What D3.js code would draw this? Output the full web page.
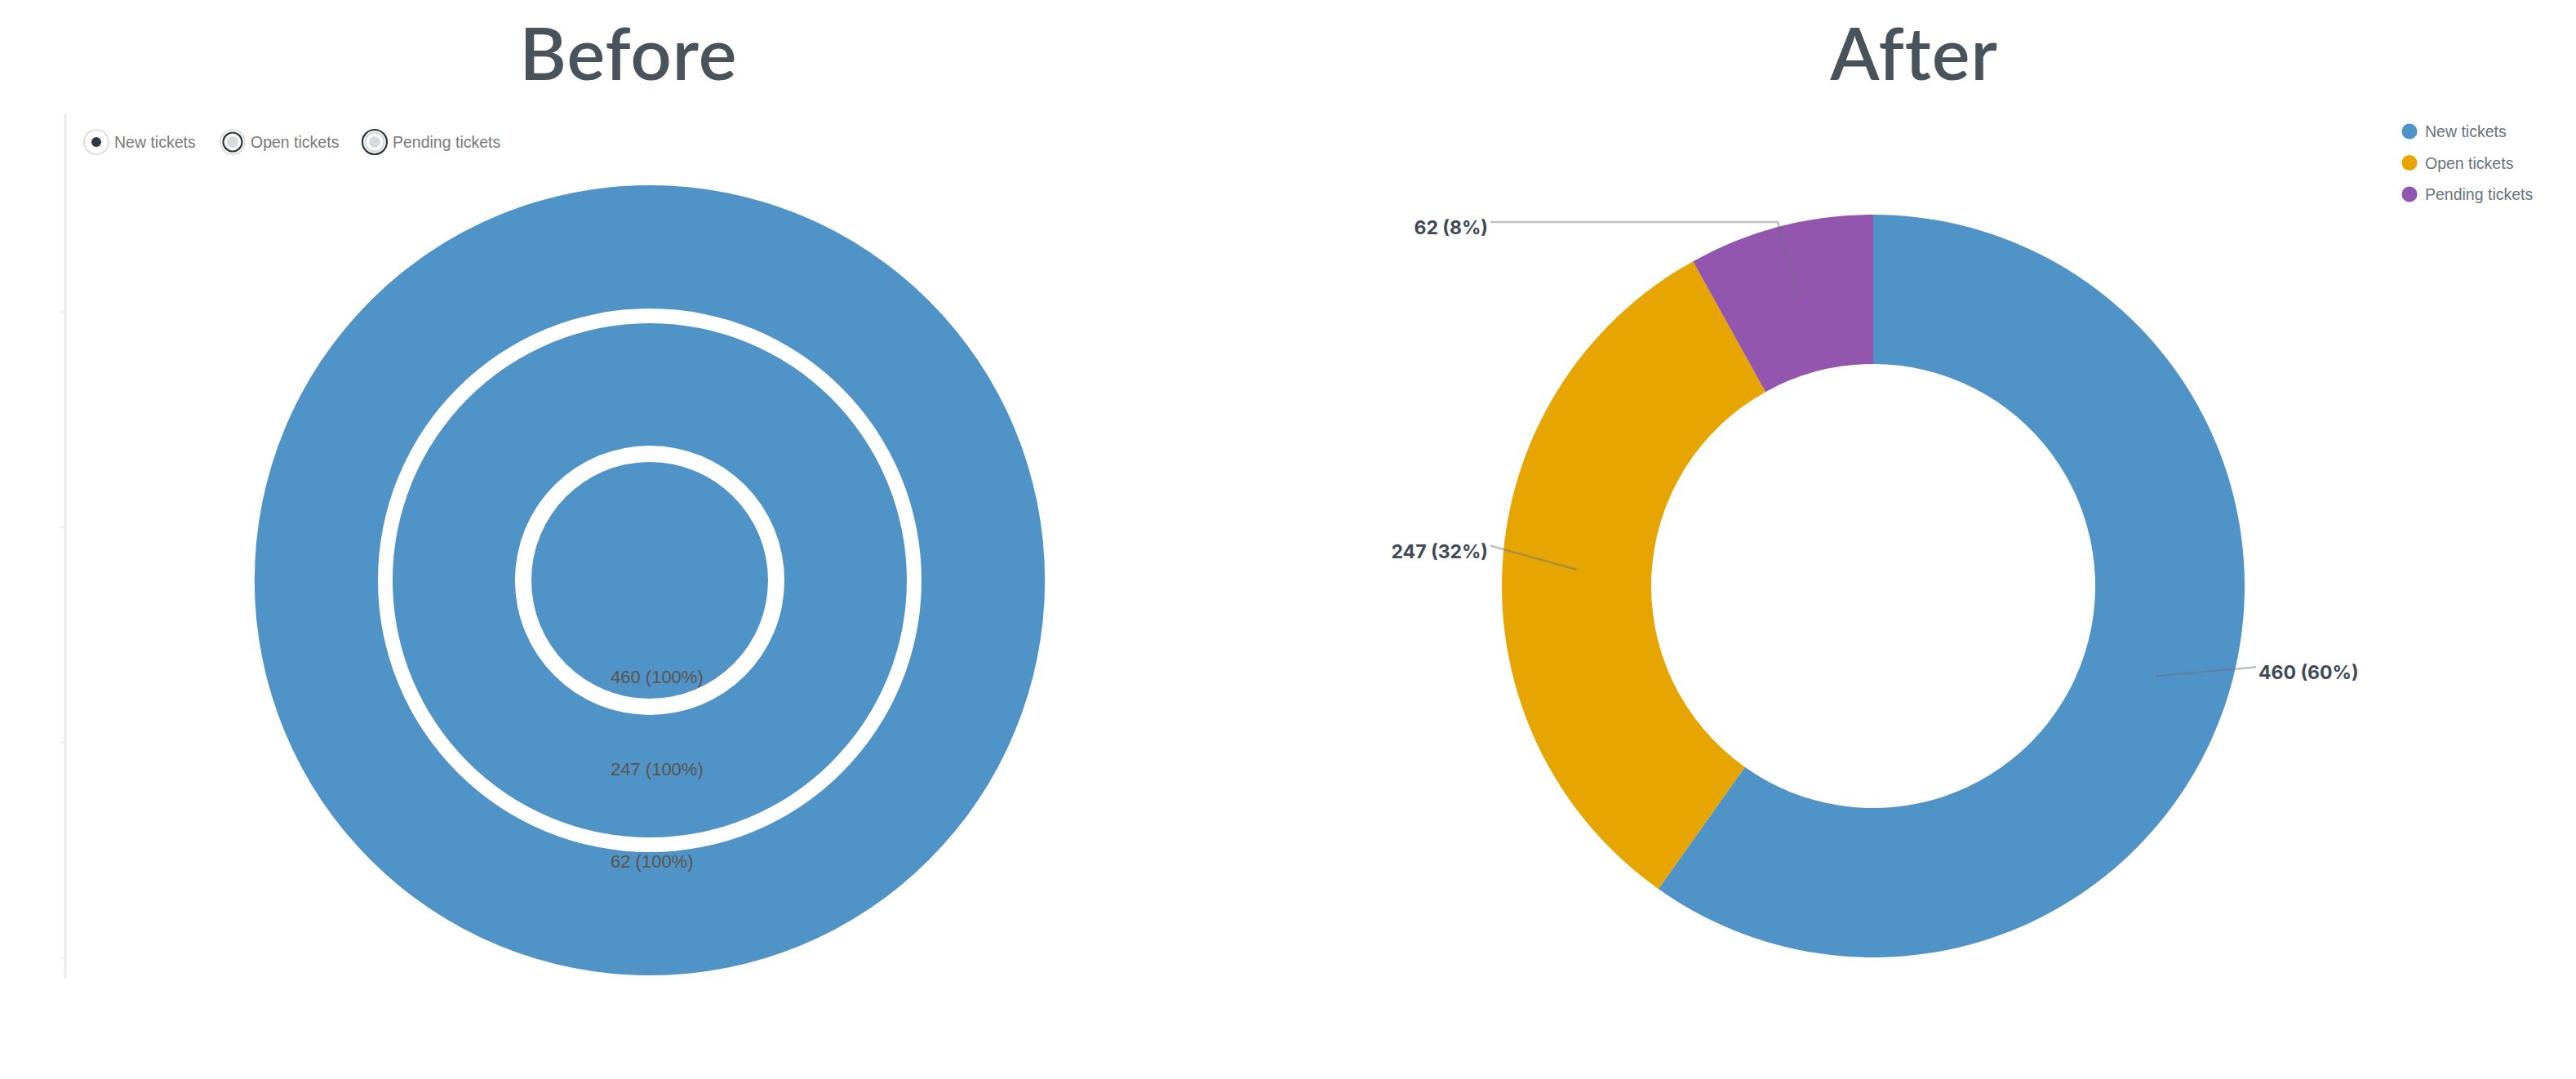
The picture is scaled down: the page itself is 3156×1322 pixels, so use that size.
<!DOCTYPE html>
<html>
<head>
<meta charset="utf-8">
<script src="https://cdn.jsdelivr.net/npm/d3@7"></script>
<style>
  body { margin: 0; background: #ffffff; }
  svg { display: block; }
</style>
</head>
<body>
<svg id="chart"></svg>
<script>

var screen = {width: 3156, height: 1322};

// data
var names = ["New tickets", "Open tickets", "Pending tickets"];
var counts = [460, 247, 62];
var colors = ["#5093c7", "#e6a500", "#9356ae"];
var titles = ["Before", "After"];
var axisTicks = [0, 1, 2, 3];

var svg = d3.select("#chart")
    .attr("width", screen.width)
    .attr("height", screen.height)

var total = d3.sum(counts)
var pct = function(v) { return Math.round(v / total * 100) + "%" }

// ---------- titles
svg.selectAll(".title")
    .data(titles)
    .enter()
    .append("text")
    .attr("class", "title")
    .attr("x", function(d, i) { return i == 0 ? 770 : 2345 })
    .attr("y", 98)
    .attr("text-anchor", "middle")
    .attr("fill", "#49535c")
    .style("font-family", "Lato, 'Open Sans', sans-serif")
    .style("font-weight", 600)
    .style("font-size", "88px")
    .style("letter-spacing", "1px")
    .text(function(d) { return d })


// ---------- BEFORE: one full ring per series
var drawBefore = function()
{
    var cx = 796, cy = 711;
    var ringR = [[0, 145], [165, 315], [333, 484]];

    // faint empty y axis on the left
    var yScale = d3.scalePoint()
        .domain(axisTicks)
        .range([382, 1173])
    var yAxis = d3.axisLeft(yScale).tickSize(6).tickFormat("")
    var ax = svg.append("g")
        .attr("id", "beforeAxis")
        .attr("transform", "translate(80,0)")
        .call(yAxis)
    ax.select(".domain").remove()
    ax.selectAll("line").attr("stroke", "#ececec").attr("stroke-width", 2)
    ax.append("line")
        .attr("y1", 140).attr("y2", 1198)
        .attr("stroke", "#e9e9e9").attr("stroke-width", 3)

    var g = svg.append("g")
        .attr("id", "before")
        .attr("transform", "translate(" + cx + "," + cy + ")")

    var arc = d3.arc()
        .innerRadius(function(d, i) { return ringR[i][0] })
        .outerRadius(function(d, i) { return ringR[i][1] })
        .startAngle(0)
        .endAngle(2 * Math.PI)

    g.selectAll("path")
        .data(counts)
        .enter()
        .append("path")
        .attr("d", function(d, i) { return arc(d, i) })
        .attr("fill", colors[0])

    g.selectAll(".lbl")
        .data(counts)
        .enter()
        .append("text")
        .attr("class", "lbl")
        .attr("x", -48)
        .attr("y", function(d, i) { return 126 + i * 113 })
        .attr("fill", "#5a5550")
        .style("font-family", "'Liberation Sans', Arial, sans-serif")
        .style("font-size", "22px")
        .text(function(d) { return d + " (100%)" })

    // radio style legend
    var lx = [118, 285, 459];
    var lg = svg.append("g").attr("id", "beforeLegend")
        .selectAll("g")
        .data(names)
        .enter()
        .append("g")
        .attr("transform", function(d, i) { return "translate(" + lx[i] + ",174)" })

    lg.append("circle").attr("r", 15).attr("fill", "white")
        .attr("stroke", function(d, i) { return i == 2 ? "#2f3941" : "#d5d9dc" })
        .attr("stroke-width", function(d, i) { return i == 2 ? 2.2 : 1.5 })
    lg.filter(function(d, i) { return i > 0 })
        .append("circle").attr("r", 11.5).attr("fill", "white")
        .attr("stroke", function(d, i) { return i == 0 ? "#2f3941" : "#d5d9dc" })
        .attr("stroke-width", 2.2)
    lg.append("circle").attr("r", function(d, i) { return i == 0 ? 6 : 7 })
        .attr("fill", function(d, i) { return i == 0 ? "#2f3941" : "#d8dcde" })

    lg.append("text")
        .attr("x", 22)
        .attr("y", 7)
        .attr("fill", "#7a7a7a")
        .style("font-family", "'Liberation Sans', Arial, sans-serif")
        .style("font-size", "19.5px")
        .text(function(d) { return d })
}


// ---------- AFTER: real donut
var drawAfter = function()
{
    var cx = 2295, cy = 718;
    var inner = 272, outer = 455;
    // label leader layout: bend radius and angle (deg, clockwise from top)
    var bendR = [478, 471, 461];
    var bendA = [102, 276, 345.3];
    var labelDX = outer + 14;

    var pie = d3.pie().sort(null).value(function(d) { return d })
    var arcs = pie(counts)

    var arc = d3.arc().innerRadius(inner).outerRadius(outer)
    var mid = d3.arc().innerRadius((inner + outer) / 2).outerRadius((inner + outer) / 2)

    var g = svg.append("g")
        .attr("id", "after")
        .attr("transform", "translate(" + cx + "," + cy + ")")

    g.selectAll("path.slice")
        .data(arcs)
        .enter()
        .append("path")
        .attr("class", "slice")
        .attr("d", arc)
        .attr("fill", function(d, i) { return colors[i] })

    var polar = function(r, deg)
    {
        var a = deg * Math.PI / 180;
        return [r * Math.sin(a), -r * Math.cos(a)]
    }

    var line = d3.line()
    var pts = arcs.map(function(d, i)
    {
        var c = mid.centroid(d)
        var b = polar(bendR[i], bendA[i])
        var side = b[0] < 0 ? -1 : 1
        var e = [side * labelDX, b[1]]
        return {c: c, b: b, e: e, side: side, d: d}
    })

    g.selectAll(".leader")
        .data(pts)
        .enter()
        .append("path")
        .attr("class", "leader")
        .attr("d", function(p) { return line([p.c, p.b, p.e]) })
        .attr("fill", "none")
        .attr("stroke", "#68737d")
        .attr("stroke-opacity", 0.45)
        .attr("stroke-width", 2.5)

    g.selectAll(".lbl")
        .data(pts)
        .enter()
        .append("text")
        .attr("class", "lbl")
        .attr("x", function(p) { return p.e[0] + p.side * 3 })
        .attr("y", function(p) { return p.e[1] + 15 })
        .attr("text-anchor", function(p) { return p.side < 0 ? "end" : "start" })
        .attr("fill", "#3e4a55")
        .style("font-family", "Inter, 'Liberation Sans', sans-serif")
        .style("font-weight", 700)
        .style("font-size", "23px")
        .text(function(p) { return p.d.value + " (" + pct(p.d.value) + ")" })

    var lg = svg.append("g").attr("id", "afterLegend")
        .selectAll("g")
        .data(names)
        .enter()
        .append("g")
        .attr("transform", function(d, i) { return "translate(2952," + (161 + i * 38.5) + ")" })

    lg.append("circle").attr("r", 9.5)
        .attr("fill", function(d, i) { return colors[i] })
    lg.append("text")
        .attr("x", 19)
        .attr("y", 7)
        .attr("fill", "#68737d")
        .style("font-family", "'Liberation Sans', Arial, sans-serif")
        .style("font-size", "19.5px")
        .text(function(d) { return d })
}

drawBefore()
drawAfter()

</script>
</body>
</html>
